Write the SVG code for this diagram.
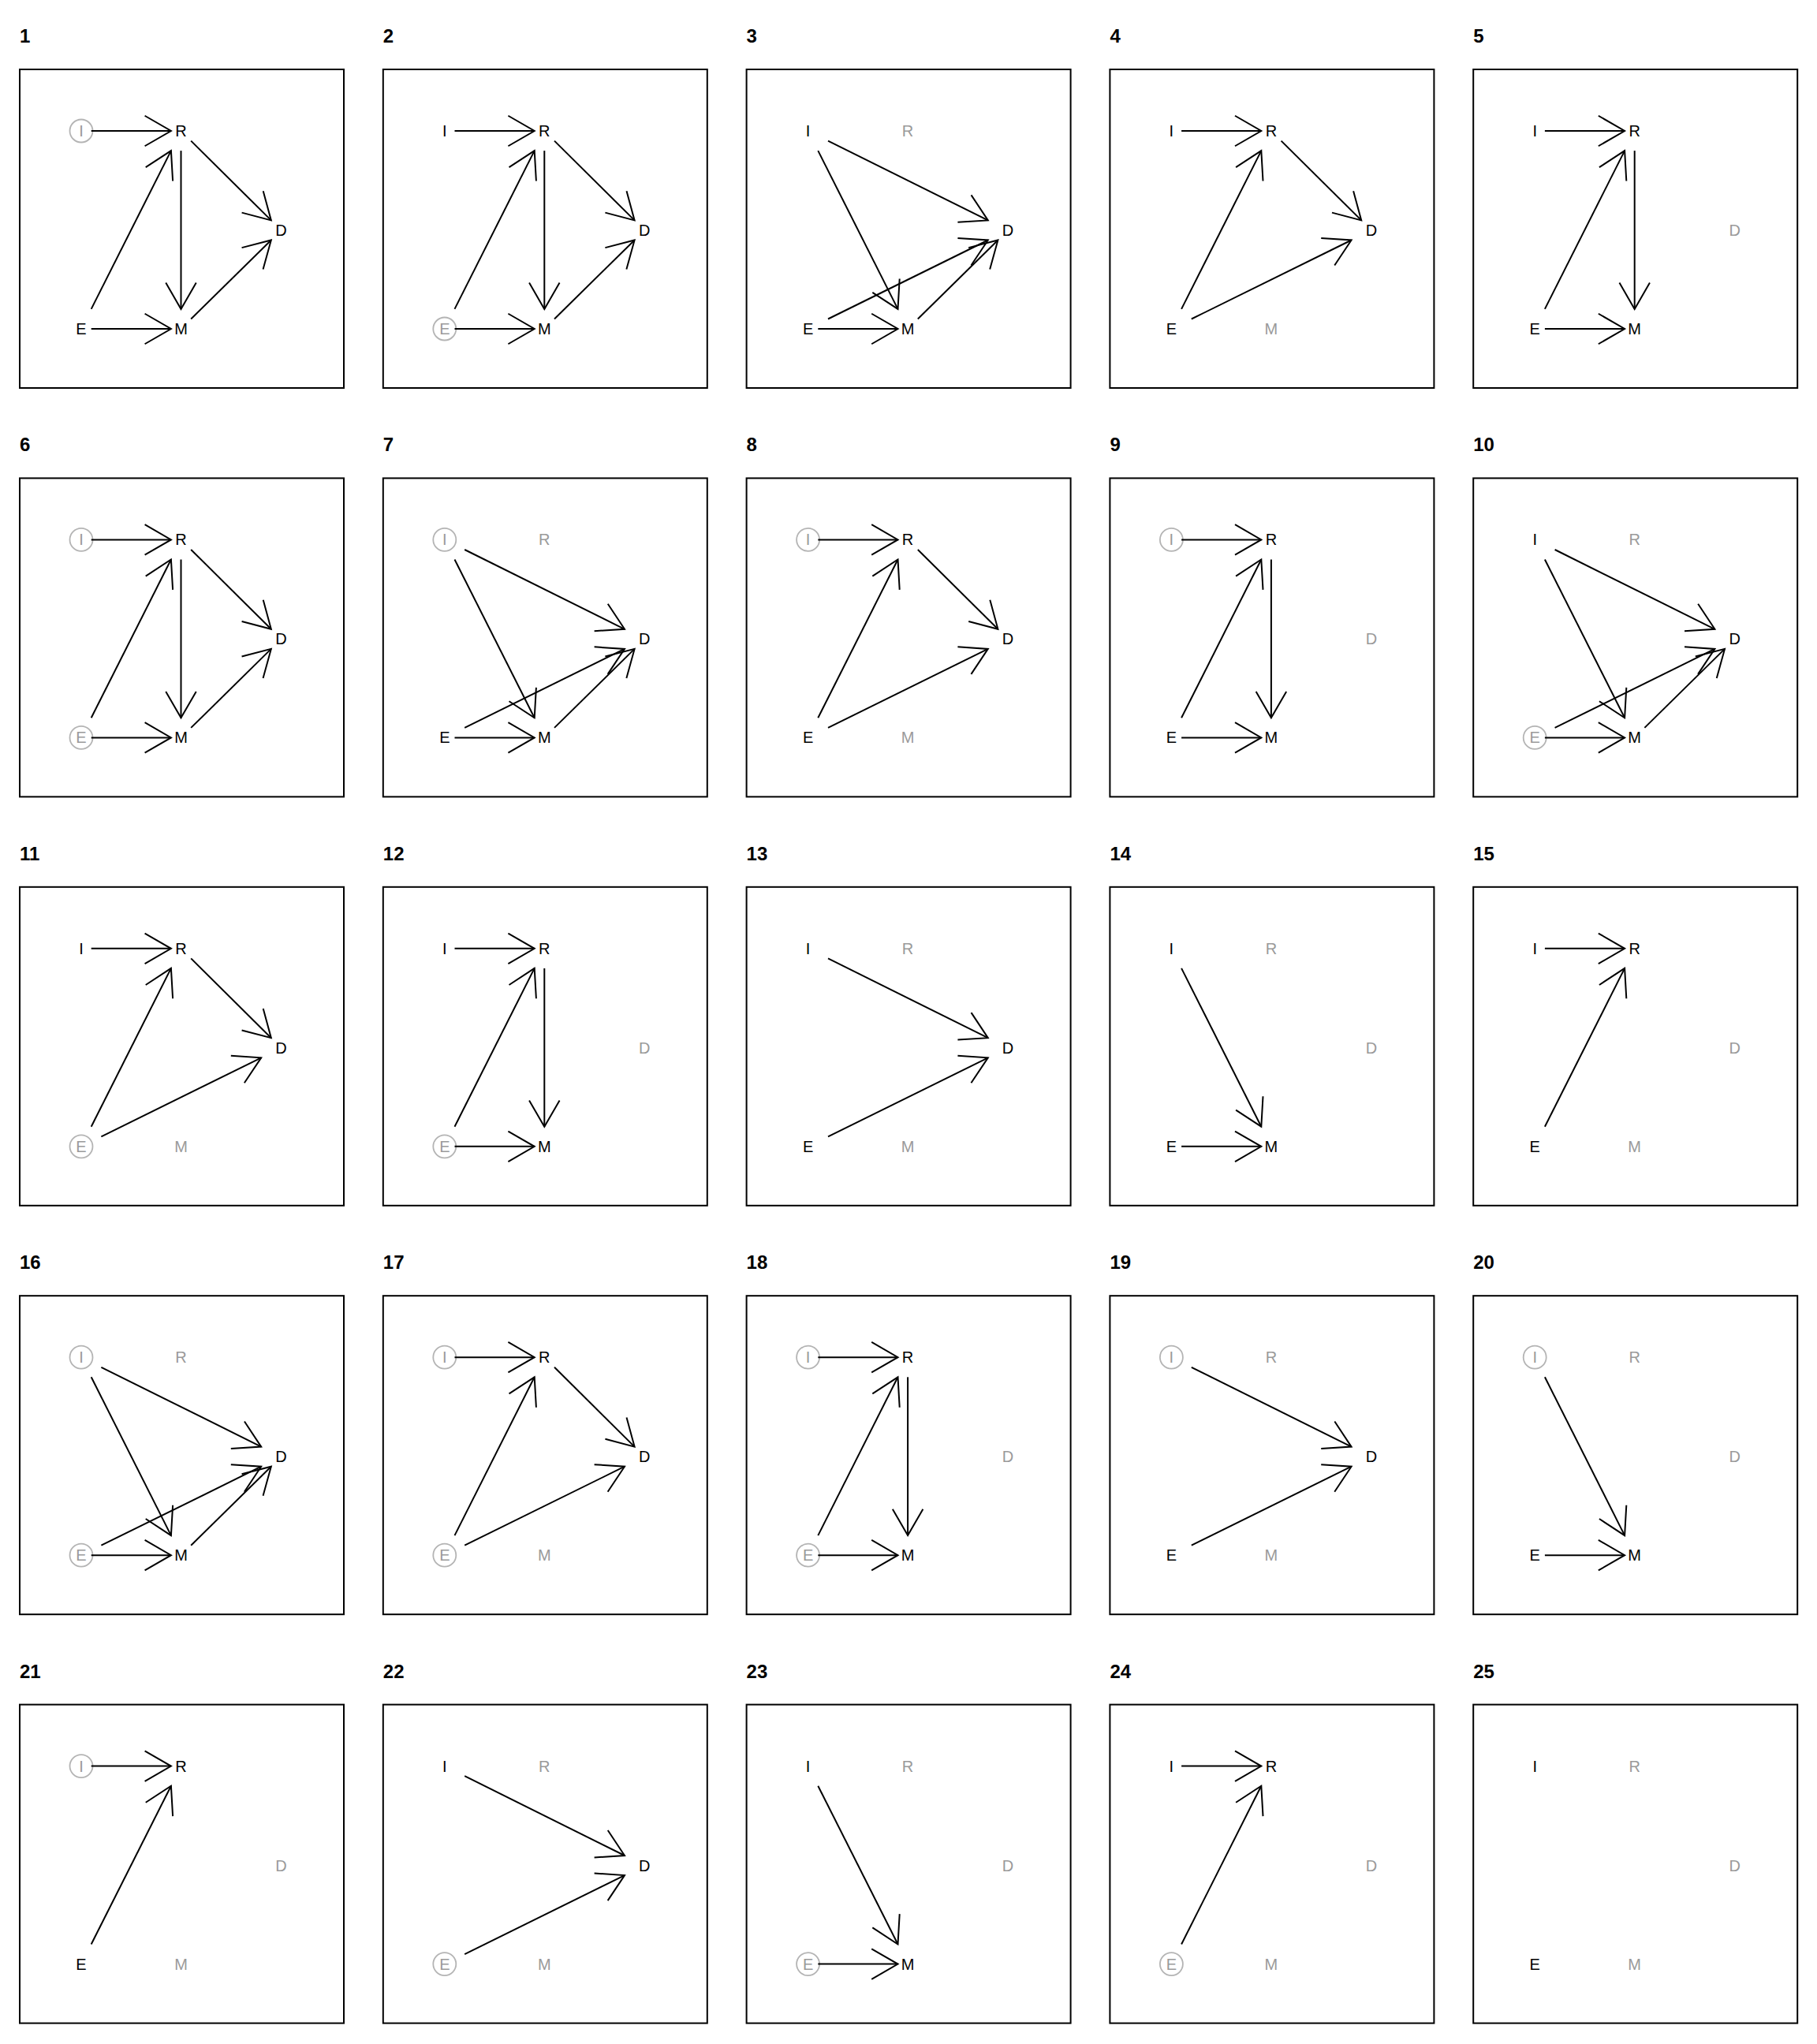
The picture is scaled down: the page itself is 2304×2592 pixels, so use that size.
<svg xmlns="http://www.w3.org/2000/svg" width="2304" height="2592" viewBox="0 0 2304 2592">
<style>
.bg{fill:#fff}
.frame{fill:none;stroke:#000;stroke-width:2}
.title{font-family:"Liberation Sans",Arial,sans-serif;font-size:24px;font-weight:bold;fill:#000}
.node text{font-family:"Liberation Sans",Arial,sans-serif;font-size:20px;text-anchor:middle;fill:#000}
.node.adj text,.node.off text{fill:#9a9a9a}
.node circle{fill:none;stroke:#b4b4b4;stroke-width:1.8}
.edges line{stroke:#000;stroke-width:2;fill:none;marker-end:url(#ah)}
</style>
<defs>
<marker id="ah" markerUnits="userSpaceOnUse" orient="auto" refX="0" refY="0" markerWidth="1" markerHeight="1" overflow="visible">
<path d="M-33.3,-19.25 L0,0 L-33.3,19.25" fill="none" stroke="#000" stroke-width="2"/>
</marker>
</defs>
<rect class="bg" x="0" y="0" width="2304" height="2592"/>

<!-- Panel 1 -->
<g id="p1" transform="translate(0,0)">
<text class="title" x="25" y="54">1</text>
<rect class="frame" x="25" y="88" width="411" height="404"/>
<g id="p1-I" class="node adj"><circle cx="103" cy="166" r="14.5"/><text x="103" y="173">I</text></g>
<g id="p1-R" class="node"><text x="229.5" y="173">R</text></g>
<g id="p1-D" class="node"><text x="356.5" y="299">D</text></g>
<g id="p1-E" class="node"><text x="103" y="424">E</text></g>
<g id="p1-M" class="node"><text x="229.5" y="424">M</text></g>
<g id="p1-edges" class="edges">
<line x1="115.7" y1="166" x2="216.9" y2="166"/>
<line x1="115.7" y1="391.9" x2="216.9" y2="191.1"/>
<line x1="229.5" y1="191.1" x2="229.5" y2="391.9"/>
<line x1="242.2" y1="178.6" x2="343.8" y2="279.4"/>
<line x1="242.2" y1="404.5" x2="343.8" y2="304.5"/>
<line x1="115.7" y1="417" x2="216.9" y2="417"/>
</g>
</g>

<!-- Panel 2 -->
<g id="p2" transform="translate(460.8,0)">
<text class="title" x="25" y="54">2</text>
<rect class="frame" x="25" y="88" width="411" height="404"/>
<g id="p2-I" class="node"><text x="103" y="173">I</text></g>
<g id="p2-R" class="node"><text x="229.5" y="173">R</text></g>
<g id="p2-D" class="node"><text x="356.5" y="299">D</text></g>
<g id="p2-E" class="node adj"><circle cx="103" cy="417" r="14.5"/><text x="103" y="424">E</text></g>
<g id="p2-M" class="node"><text x="229.5" y="424">M</text></g>
<g id="p2-edges" class="edges">
<line x1="115.7" y1="166" x2="216.9" y2="166"/>
<line x1="115.7" y1="391.9" x2="216.9" y2="191.1"/>
<line x1="229.5" y1="191.1" x2="229.5" y2="391.9"/>
<line x1="242.2" y1="178.6" x2="343.8" y2="279.4"/>
<line x1="242.2" y1="404.5" x2="343.8" y2="304.5"/>
<line x1="115.7" y1="417" x2="216.9" y2="417"/>
</g>
</g>

<!-- Panel 3 -->
<g id="p3" transform="translate(921.6,0)">
<text class="title" x="25" y="54">3</text>
<rect class="frame" x="25" y="88" width="411" height="404"/>
<g id="p3-I" class="node"><text x="103" y="173">I</text></g>
<g id="p3-R" class="node off"><text x="229.5" y="173">R</text></g>
<g id="p3-D" class="node"><text x="356.5" y="299">D</text></g>
<g id="p3-E" class="node"><text x="103" y="424">E</text></g>
<g id="p3-M" class="node"><text x="229.5" y="424">M</text></g>
<g id="p3-edges" class="edges">
<line x1="128.4" y1="178.6" x2="331.2" y2="279.4"/>
<line x1="115.7" y1="191.1" x2="216.9" y2="391.9"/>
<line x1="128.4" y1="404.5" x2="331.2" y2="304.5"/>
<line x1="115.7" y1="417" x2="216.9" y2="417"/>
<line x1="242.2" y1="404.5" x2="343.8" y2="304.5"/>
</g>
</g>

<!-- Panel 4 -->
<g id="p4" transform="translate(1382.4,0)">
<text class="title" x="25" y="54">4</text>
<rect class="frame" x="25" y="88" width="411" height="404"/>
<g id="p4-I" class="node"><text x="103" y="173">I</text></g>
<g id="p4-R" class="node"><text x="229.5" y="173">R</text></g>
<g id="p4-D" class="node"><text x="356.5" y="299">D</text></g>
<g id="p4-E" class="node"><text x="103" y="424">E</text></g>
<g id="p4-M" class="node off"><text x="229.5" y="424">M</text></g>
<g id="p4-edges" class="edges">
<line x1="115.7" y1="166" x2="216.9" y2="166"/>
<line x1="115.7" y1="391.9" x2="216.9" y2="191.1"/>
<line x1="242.2" y1="178.6" x2="343.8" y2="279.4"/>
<line x1="128.4" y1="404.5" x2="331.2" y2="304.5"/>
</g>
</g>

<!-- Panel 5 -->
<g id="p5" transform="translate(1843.2,0)">
<text class="title" x="25" y="54">5</text>
<rect class="frame" x="25" y="88" width="411" height="404"/>
<g id="p5-I" class="node"><text x="103" y="173">I</text></g>
<g id="p5-R" class="node"><text x="229.5" y="173">R</text></g>
<g id="p5-D" class="node off"><text x="356.5" y="299">D</text></g>
<g id="p5-E" class="node"><text x="103" y="424">E</text></g>
<g id="p5-M" class="node"><text x="229.5" y="424">M</text></g>
<g id="p5-edges" class="edges">
<line x1="115.7" y1="166" x2="216.9" y2="166"/>
<line x1="115.7" y1="391.9" x2="216.9" y2="191.1"/>
<line x1="229.5" y1="191.1" x2="229.5" y2="391.9"/>
<line x1="115.7" y1="417" x2="216.9" y2="417"/>
</g>
</g>

<!-- Panel 6 -->
<g id="p6" transform="translate(0,518.4)">
<text class="title" x="25" y="54">6</text>
<rect class="frame" x="25" y="88" width="411" height="404"/>
<g id="p6-I" class="node adj"><circle cx="103" cy="166" r="14.5"/><text x="103" y="173">I</text></g>
<g id="p6-R" class="node"><text x="229.5" y="173">R</text></g>
<g id="p6-D" class="node"><text x="356.5" y="299">D</text></g>
<g id="p6-E" class="node adj"><circle cx="103" cy="417" r="14.5"/><text x="103" y="424">E</text></g>
<g id="p6-M" class="node"><text x="229.5" y="424">M</text></g>
<g id="p6-edges" class="edges">
<line x1="115.7" y1="166" x2="216.9" y2="166"/>
<line x1="115.7" y1="391.9" x2="216.9" y2="191.1"/>
<line x1="229.5" y1="191.1" x2="229.5" y2="391.9"/>
<line x1="242.2" y1="178.6" x2="343.8" y2="279.4"/>
<line x1="242.2" y1="404.5" x2="343.8" y2="304.5"/>
<line x1="115.7" y1="417" x2="216.9" y2="417"/>
</g>
</g>

<!-- Panel 7 -->
<g id="p7" transform="translate(460.8,518.4)">
<text class="title" x="25" y="54">7</text>
<rect class="frame" x="25" y="88" width="411" height="404"/>
<g id="p7-I" class="node adj"><circle cx="103" cy="166" r="14.5"/><text x="103" y="173">I</text></g>
<g id="p7-R" class="node off"><text x="229.5" y="173">R</text></g>
<g id="p7-D" class="node"><text x="356.5" y="299">D</text></g>
<g id="p7-E" class="node"><text x="103" y="424">E</text></g>
<g id="p7-M" class="node"><text x="229.5" y="424">M</text></g>
<g id="p7-edges" class="edges">
<line x1="128.4" y1="178.6" x2="331.2" y2="279.4"/>
<line x1="115.7" y1="191.1" x2="216.9" y2="391.9"/>
<line x1="128.4" y1="404.5" x2="331.2" y2="304.5"/>
<line x1="115.7" y1="417" x2="216.9" y2="417"/>
<line x1="242.2" y1="404.5" x2="343.8" y2="304.5"/>
</g>
</g>

<!-- Panel 8 -->
<g id="p8" transform="translate(921.6,518.4)">
<text class="title" x="25" y="54">8</text>
<rect class="frame" x="25" y="88" width="411" height="404"/>
<g id="p8-I" class="node adj"><circle cx="103" cy="166" r="14.5"/><text x="103" y="173">I</text></g>
<g id="p8-R" class="node"><text x="229.5" y="173">R</text></g>
<g id="p8-D" class="node"><text x="356.5" y="299">D</text></g>
<g id="p8-E" class="node"><text x="103" y="424">E</text></g>
<g id="p8-M" class="node off"><text x="229.5" y="424">M</text></g>
<g id="p8-edges" class="edges">
<line x1="115.7" y1="166" x2="216.9" y2="166"/>
<line x1="115.7" y1="391.9" x2="216.9" y2="191.1"/>
<line x1="242.2" y1="178.6" x2="343.8" y2="279.4"/>
<line x1="128.4" y1="404.5" x2="331.2" y2="304.5"/>
</g>
</g>

<!-- Panel 9 -->
<g id="p9" transform="translate(1382.4,518.4)">
<text class="title" x="25" y="54">9</text>
<rect class="frame" x="25" y="88" width="411" height="404"/>
<g id="p9-I" class="node adj"><circle cx="103" cy="166" r="14.5"/><text x="103" y="173">I</text></g>
<g id="p9-R" class="node"><text x="229.5" y="173">R</text></g>
<g id="p9-D" class="node off"><text x="356.5" y="299">D</text></g>
<g id="p9-E" class="node"><text x="103" y="424">E</text></g>
<g id="p9-M" class="node"><text x="229.5" y="424">M</text></g>
<g id="p9-edges" class="edges">
<line x1="115.7" y1="166" x2="216.9" y2="166"/>
<line x1="115.7" y1="391.9" x2="216.9" y2="191.1"/>
<line x1="229.5" y1="191.1" x2="229.5" y2="391.9"/>
<line x1="115.7" y1="417" x2="216.9" y2="417"/>
</g>
</g>

<!-- Panel 10 -->
<g id="p10" transform="translate(1843.2,518.4)">
<text class="title" x="25" y="54">10</text>
<rect class="frame" x="25" y="88" width="411" height="404"/>
<g id="p10-I" class="node"><text x="103" y="173">I</text></g>
<g id="p10-R" class="node off"><text x="229.5" y="173">R</text></g>
<g id="p10-D" class="node"><text x="356.5" y="299">D</text></g>
<g id="p10-E" class="node adj"><circle cx="103" cy="417" r="14.5"/><text x="103" y="424">E</text></g>
<g id="p10-M" class="node"><text x="229.5" y="424">M</text></g>
<g id="p10-edges" class="edges">
<line x1="128.4" y1="178.6" x2="331.2" y2="279.4"/>
<line x1="115.7" y1="191.1" x2="216.9" y2="391.9"/>
<line x1="128.4" y1="404.5" x2="331.2" y2="304.5"/>
<line x1="115.7" y1="417" x2="216.9" y2="417"/>
<line x1="242.2" y1="404.5" x2="343.8" y2="304.5"/>
</g>
</g>

<!-- Panel 11 -->
<g id="p11" transform="translate(0,1036.8)">
<text class="title" x="25" y="54">11</text>
<rect class="frame" x="25" y="88" width="411" height="404"/>
<g id="p11-I" class="node"><text x="103" y="173">I</text></g>
<g id="p11-R" class="node"><text x="229.5" y="173">R</text></g>
<g id="p11-D" class="node"><text x="356.5" y="299">D</text></g>
<g id="p11-E" class="node adj"><circle cx="103" cy="417" r="14.5"/><text x="103" y="424">E</text></g>
<g id="p11-M" class="node off"><text x="229.5" y="424">M</text></g>
<g id="p11-edges" class="edges">
<line x1="115.7" y1="166" x2="216.9" y2="166"/>
<line x1="115.7" y1="391.9" x2="216.9" y2="191.1"/>
<line x1="242.2" y1="178.6" x2="343.8" y2="279.4"/>
<line x1="128.4" y1="404.5" x2="331.2" y2="304.5"/>
</g>
</g>

<!-- Panel 12 -->
<g id="p12" transform="translate(460.8,1036.8)">
<text class="title" x="25" y="54">12</text>
<rect class="frame" x="25" y="88" width="411" height="404"/>
<g id="p12-I" class="node"><text x="103" y="173">I</text></g>
<g id="p12-R" class="node"><text x="229.5" y="173">R</text></g>
<g id="p12-D" class="node off"><text x="356.5" y="299">D</text></g>
<g id="p12-E" class="node adj"><circle cx="103" cy="417" r="14.5"/><text x="103" y="424">E</text></g>
<g id="p12-M" class="node"><text x="229.5" y="424">M</text></g>
<g id="p12-edges" class="edges">
<line x1="115.7" y1="166" x2="216.9" y2="166"/>
<line x1="115.7" y1="391.9" x2="216.9" y2="191.1"/>
<line x1="229.5" y1="191.1" x2="229.5" y2="391.9"/>
<line x1="115.7" y1="417" x2="216.9" y2="417"/>
</g>
</g>

<!-- Panel 13 -->
<g id="p13" transform="translate(921.6,1036.8)">
<text class="title" x="25" y="54">13</text>
<rect class="frame" x="25" y="88" width="411" height="404"/>
<g id="p13-I" class="node"><text x="103" y="173">I</text></g>
<g id="p13-R" class="node off"><text x="229.5" y="173">R</text></g>
<g id="p13-D" class="node"><text x="356.5" y="299">D</text></g>
<g id="p13-E" class="node"><text x="103" y="424">E</text></g>
<g id="p13-M" class="node off"><text x="229.5" y="424">M</text></g>
<g id="p13-edges" class="edges">
<line x1="128.4" y1="178.6" x2="331.2" y2="279.4"/>
<line x1="128.4" y1="404.5" x2="331.2" y2="304.5"/>
</g>
</g>

<!-- Panel 14 -->
<g id="p14" transform="translate(1382.4,1036.8)">
<text class="title" x="25" y="54">14</text>
<rect class="frame" x="25" y="88" width="411" height="404"/>
<g id="p14-I" class="node"><text x="103" y="173">I</text></g>
<g id="p14-R" class="node off"><text x="229.5" y="173">R</text></g>
<g id="p14-D" class="node off"><text x="356.5" y="299">D</text></g>
<g id="p14-E" class="node"><text x="103" y="424">E</text></g>
<g id="p14-M" class="node"><text x="229.5" y="424">M</text></g>
<g id="p14-edges" class="edges">
<line x1="115.7" y1="191.1" x2="216.9" y2="391.9"/>
<line x1="115.7" y1="417" x2="216.9" y2="417"/>
</g>
</g>

<!-- Panel 15 -->
<g id="p15" transform="translate(1843.2,1036.8)">
<text class="title" x="25" y="54">15</text>
<rect class="frame" x="25" y="88" width="411" height="404"/>
<g id="p15-I" class="node"><text x="103" y="173">I</text></g>
<g id="p15-R" class="node"><text x="229.5" y="173">R</text></g>
<g id="p15-D" class="node off"><text x="356.5" y="299">D</text></g>
<g id="p15-E" class="node"><text x="103" y="424">E</text></g>
<g id="p15-M" class="node off"><text x="229.5" y="424">M</text></g>
<g id="p15-edges" class="edges">
<line x1="115.7" y1="166" x2="216.9" y2="166"/>
<line x1="115.7" y1="391.9" x2="216.9" y2="191.1"/>
</g>
</g>

<!-- Panel 16 -->
<g id="p16" transform="translate(0,1555.2)">
<text class="title" x="25" y="54">16</text>
<rect class="frame" x="25" y="88" width="411" height="404"/>
<g id="p16-I" class="node adj"><circle cx="103" cy="166" r="14.5"/><text x="103" y="173">I</text></g>
<g id="p16-R" class="node off"><text x="229.5" y="173">R</text></g>
<g id="p16-D" class="node"><text x="356.5" y="299">D</text></g>
<g id="p16-E" class="node adj"><circle cx="103" cy="417" r="14.5"/><text x="103" y="424">E</text></g>
<g id="p16-M" class="node"><text x="229.5" y="424">M</text></g>
<g id="p16-edges" class="edges">
<line x1="128.4" y1="178.6" x2="331.2" y2="279.4"/>
<line x1="115.7" y1="191.1" x2="216.9" y2="391.9"/>
<line x1="128.4" y1="404.5" x2="331.2" y2="304.5"/>
<line x1="115.7" y1="417" x2="216.9" y2="417"/>
<line x1="242.2" y1="404.5" x2="343.8" y2="304.5"/>
</g>
</g>

<!-- Panel 17 -->
<g id="p17" transform="translate(460.8,1555.2)">
<text class="title" x="25" y="54">17</text>
<rect class="frame" x="25" y="88" width="411" height="404"/>
<g id="p17-I" class="node adj"><circle cx="103" cy="166" r="14.5"/><text x="103" y="173">I</text></g>
<g id="p17-R" class="node"><text x="229.5" y="173">R</text></g>
<g id="p17-D" class="node"><text x="356.5" y="299">D</text></g>
<g id="p17-E" class="node adj"><circle cx="103" cy="417" r="14.5"/><text x="103" y="424">E</text></g>
<g id="p17-M" class="node off"><text x="229.5" y="424">M</text></g>
<g id="p17-edges" class="edges">
<line x1="115.7" y1="166" x2="216.9" y2="166"/>
<line x1="115.7" y1="391.9" x2="216.9" y2="191.1"/>
<line x1="242.2" y1="178.6" x2="343.8" y2="279.4"/>
<line x1="128.4" y1="404.5" x2="331.2" y2="304.5"/>
</g>
</g>

<!-- Panel 18 -->
<g id="p18" transform="translate(921.6,1555.2)">
<text class="title" x="25" y="54">18</text>
<rect class="frame" x="25" y="88" width="411" height="404"/>
<g id="p18-I" class="node adj"><circle cx="103" cy="166" r="14.5"/><text x="103" y="173">I</text></g>
<g id="p18-R" class="node"><text x="229.5" y="173">R</text></g>
<g id="p18-D" class="node off"><text x="356.5" y="299">D</text></g>
<g id="p18-E" class="node adj"><circle cx="103" cy="417" r="14.5"/><text x="103" y="424">E</text></g>
<g id="p18-M" class="node"><text x="229.5" y="424">M</text></g>
<g id="p18-edges" class="edges">
<line x1="115.7" y1="166" x2="216.9" y2="166"/>
<line x1="115.7" y1="391.9" x2="216.9" y2="191.1"/>
<line x1="229.5" y1="191.1" x2="229.5" y2="391.9"/>
<line x1="115.7" y1="417" x2="216.9" y2="417"/>
</g>
</g>

<!-- Panel 19 -->
<g id="p19" transform="translate(1382.4,1555.2)">
<text class="title" x="25" y="54">19</text>
<rect class="frame" x="25" y="88" width="411" height="404"/>
<g id="p19-I" class="node adj"><circle cx="103" cy="166" r="14.5"/><text x="103" y="173">I</text></g>
<g id="p19-R" class="node off"><text x="229.5" y="173">R</text></g>
<g id="p19-D" class="node"><text x="356.5" y="299">D</text></g>
<g id="p19-E" class="node"><text x="103" y="424">E</text></g>
<g id="p19-M" class="node off"><text x="229.5" y="424">M</text></g>
<g id="p19-edges" class="edges">
<line x1="128.4" y1="178.6" x2="331.2" y2="279.4"/>
<line x1="128.4" y1="404.5" x2="331.2" y2="304.5"/>
</g>
</g>

<!-- Panel 20 -->
<g id="p20" transform="translate(1843.2,1555.2)">
<text class="title" x="25" y="54">20</text>
<rect class="frame" x="25" y="88" width="411" height="404"/>
<g id="p20-I" class="node adj"><circle cx="103" cy="166" r="14.5"/><text x="103" y="173">I</text></g>
<g id="p20-R" class="node off"><text x="229.5" y="173">R</text></g>
<g id="p20-D" class="node off"><text x="356.5" y="299">D</text></g>
<g id="p20-E" class="node"><text x="103" y="424">E</text></g>
<g id="p20-M" class="node"><text x="229.5" y="424">M</text></g>
<g id="p20-edges" class="edges">
<line x1="115.7" y1="191.1" x2="216.9" y2="391.9"/>
<line x1="115.7" y1="417" x2="216.9" y2="417"/>
</g>
</g>

<!-- Panel 21 -->
<g id="p21" transform="translate(0,2073.6)">
<text class="title" x="25" y="54">21</text>
<rect class="frame" x="25" y="88" width="411" height="404"/>
<g id="p21-I" class="node adj"><circle cx="103" cy="166" r="14.5"/><text x="103" y="173">I</text></g>
<g id="p21-R" class="node"><text x="229.5" y="173">R</text></g>
<g id="p21-D" class="node off"><text x="356.5" y="299">D</text></g>
<g id="p21-E" class="node"><text x="103" y="424">E</text></g>
<g id="p21-M" class="node off"><text x="229.5" y="424">M</text></g>
<g id="p21-edges" class="edges">
<line x1="115.7" y1="166" x2="216.9" y2="166"/>
<line x1="115.7" y1="391.9" x2="216.9" y2="191.1"/>
</g>
</g>

<!-- Panel 22 -->
<g id="p22" transform="translate(460.8,2073.6)">
<text class="title" x="25" y="54">22</text>
<rect class="frame" x="25" y="88" width="411" height="404"/>
<g id="p22-I" class="node"><text x="103" y="173">I</text></g>
<g id="p22-R" class="node off"><text x="229.5" y="173">R</text></g>
<g id="p22-D" class="node"><text x="356.5" y="299">D</text></g>
<g id="p22-E" class="node adj"><circle cx="103" cy="417" r="14.5"/><text x="103" y="424">E</text></g>
<g id="p22-M" class="node off"><text x="229.5" y="424">M</text></g>
<g id="p22-edges" class="edges">
<line x1="128.4" y1="178.6" x2="331.2" y2="279.4"/>
<line x1="128.4" y1="404.5" x2="331.2" y2="304.5"/>
</g>
</g>

<!-- Panel 23 -->
<g id="p23" transform="translate(921.6,2073.6)">
<text class="title" x="25" y="54">23</text>
<rect class="frame" x="25" y="88" width="411" height="404"/>
<g id="p23-I" class="node"><text x="103" y="173">I</text></g>
<g id="p23-R" class="node off"><text x="229.5" y="173">R</text></g>
<g id="p23-D" class="node off"><text x="356.5" y="299">D</text></g>
<g id="p23-E" class="node adj"><circle cx="103" cy="417" r="14.5"/><text x="103" y="424">E</text></g>
<g id="p23-M" class="node"><text x="229.5" y="424">M</text></g>
<g id="p23-edges" class="edges">
<line x1="115.7" y1="191.1" x2="216.9" y2="391.9"/>
<line x1="115.7" y1="417" x2="216.9" y2="417"/>
</g>
</g>

<!-- Panel 24 -->
<g id="p24" transform="translate(1382.4,2073.6)">
<text class="title" x="25" y="54">24</text>
<rect class="frame" x="25" y="88" width="411" height="404"/>
<g id="p24-I" class="node"><text x="103" y="173">I</text></g>
<g id="p24-R" class="node"><text x="229.5" y="173">R</text></g>
<g id="p24-D" class="node off"><text x="356.5" y="299">D</text></g>
<g id="p24-E" class="node adj"><circle cx="103" cy="417" r="14.5"/><text x="103" y="424">E</text></g>
<g id="p24-M" class="node off"><text x="229.5" y="424">M</text></g>
<g id="p24-edges" class="edges">
<line x1="115.7" y1="166" x2="216.9" y2="166"/>
<line x1="115.7" y1="391.9" x2="216.9" y2="191.1"/>
</g>
</g>

<!-- Panel 25 -->
<g id="p25" transform="translate(1843.2,2073.6)">
<text class="title" x="25" y="54">25</text>
<rect class="frame" x="25" y="88" width="411" height="404"/>
<g id="p25-I" class="node"><text x="103" y="173">I</text></g>
<g id="p25-R" class="node off"><text x="229.5" y="173">R</text></g>
<g id="p25-D" class="node off"><text x="356.5" y="299">D</text></g>
<g id="p25-E" class="node"><text x="103" y="424">E</text></g>
<g id="p25-M" class="node off"><text x="229.5" y="424">M</text></g>
<g id="p25-edges" class="edges"></g>
</g>
</svg>
